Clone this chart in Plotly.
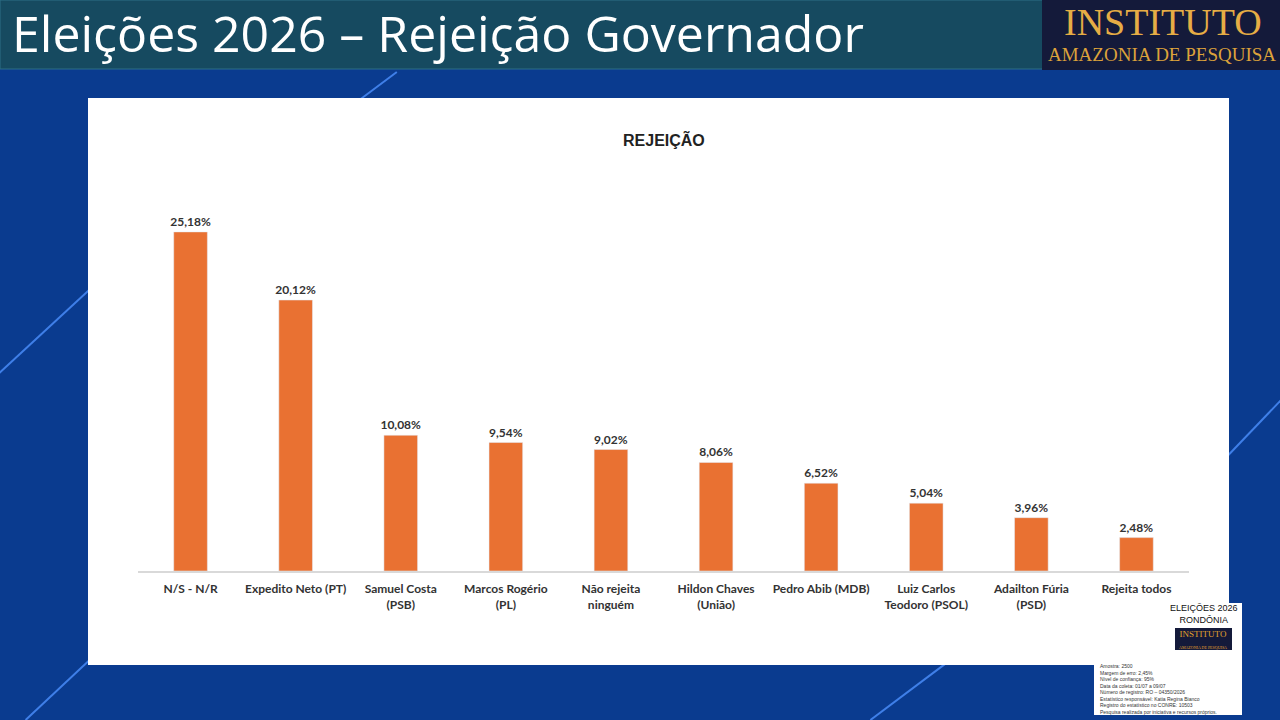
import plotly.graph_objects as go

# Dados da pesquisa (rejeição para governador)
categorias = ["N/S - N/R", "Expedito Neto (PT)", "Samuel Costa (PSB)", "Marcos Rogério (PL)",
              "Não rejeita ninguém", "Hildon Chaves (União)", "Pedro Abib (MDB)",
              "Luiz Carlos Teodoro (PSOL)", "Adailton Fúria (PSD)", "Rejeita todos"]
rotulos = ["N/S - N/R", "Expedito Neto (PT)", "Samuel Costa<br>(PSB)", "Marcos Rogério<br>(PL)",
           "Não rejeita<br>ninguém", "Hildon Chaves<br>(União)", "Pedro Abib (MDB)",
           "Luiz Carlos<br>Teodoro (PSOL)", "Adailton Fúria<br>(PSD)", "Rejeita todos"]
rejeicao = [25.18, 20.12, 10.08, 9.54, 9.02, 8.06, 6.52, 5.04, 3.96, 2.48]

ficha = ["Amostra: 2500", "Margem de erro: 2,45%", "Nível de confiança: 95%",
         "Data da coleta: 01/07 a 09/07", "Número de registro: RO – 04350/2026",
         "Estatístico responsável: Katia Regina Bianco", "Registro do estatístico no CONRE: 10503",
         "Pesquisa realizada por iniciativa e recursos próprios."]

# texto das barras no formato brasileiro
textos = [f"{v:.2f}".replace(".", ",") + "%" for v in rejeicao]

fig = go.Figure()
fig.add_trace(go.Bar(
    x=categorias, y=rejeicao, text=textos, textposition="outside",
    marker_color="#E97132", cliponaxis=False, constraintext="none",
    textfont=dict(family="Lato", size=12, color="#333333", weight="bold"),
    hoverinfo="x+y",
))

shapes = []
# fundo azul com linhas diagonais
shapes.append(dict(type="rect", xref="paper", yref="paper", x0=0, x1=1, y0=0, y1=1,
                   fillcolor="#0a3b8f", line_width=0, layer="below"))
for (x0, y0, x1, y1) in [(-0.02, 0.45, 0.12, 0.68), (0.02, 0.0, 0.2, 0.3), (0.28, 0.86, 0.31, 0.9),
                         (0.68, 0.0, 0.74, 0.08), (0.95, 0.35, 1.02, 0.48)]:
    shapes.append(dict(type="line", xref="paper", yref="paper", x0=x0, y0=y0, x1=x1, y1=y1,
                       line=dict(color="#3f7fe8", width=2), layer="below"))
# faixa do título
shapes.append(dict(type="rect", xref="paper", yref="paper", x0=0, x1=1, y0=1 - 69 / 720, y1=1,
                   fillcolor="#164a60", line=dict(color="#2d6f86", width=1), layer="below"))
# logo
shapes.append(dict(type="rect", xref="paper", yref="paper", x0=1042 / 1280, x1=1, y0=1 - 70 / 720, y1=1,
                   fillcolor="#141a3a", line_width=0, layer="below"))
# painel branco
shapes.append(dict(type="rect", xref="paper", yref="paper", x0=88 / 1280, x1=1229 / 1280,
                   y0=1 - 665 / 720, y1=1 - 98 / 720, fillcolor="white", line_width=0, layer="below"))
# ficha técnica
shapes.append(dict(type="rect", xref="paper", yref="paper", x0=1094 / 1280, x1=1242 / 1280,
                   y0=1 - 715 / 720, y1=1 - 603 / 720, fillcolor="white", line_width=0))
shapes.append(dict(type="rect", xref="paper", yref="paper", x0=1175 / 1280, x1=1232 / 1280,
                   y0=1 - 650 / 720, y1=1 - 628 / 720, fillcolor="#141a3a", line_width=0))

annotations = [
    dict(text="Eleições 2026 – Rejeição Governador", x=10 / 1280, y=1 - 33 / 720, xref="paper", yref="paper",
         xanchor="left", yanchor="middle", showarrow=False,
         font=dict(family="Open Sans", size=50, color="white")),
    dict(text="INSTITUTO", x=1163 / 1280, y=1 - 22 / 720, xref="paper", yref="paper",
         xanchor="center", yanchor="middle", showarrow=False, borderpad=0,
         font=dict(family="Liberation Serif", size=38, color="#e6ad45")),
    dict(text="AMAZONIA DE PESQUISA", x=1162 / 1280, y=1 - 55 / 720, xref="paper", yref="paper",
         xanchor="center", yanchor="middle", showarrow=False, borderpad=0,
         font=dict(family="Liberation Serif", size=19, color="#dca23a")),
    dict(text="<b>REJEIÇÃO</b>", x=664 / 1280, y=1 - 139 / 720, xref="paper", yref="paper",
         xanchor="center", yanchor="middle", showarrow=False,
         font=dict(family="Liberation Sans", size=16, color="#222222")),
    dict(text="ELEIÇÕES 2026<br>RONDÔNIA", x=1204 / 1280, y=1 - 614 / 720, xref="paper", yref="paper",
         xanchor="center", yanchor="middle", showarrow=False, align="center",
         font=dict(family="Liberation Sans", size=9, color="#111111")),
    dict(text="INSTITUTO<br><span style='font-size:4px'>AMAZONIA DE PESQUISA</span>", x=1203 / 1280,
         y=1 - 639 / 720, xref="paper", yref="paper", xanchor="center", yanchor="middle",
         showarrow=False, font=dict(family="Liberation Serif", size=9, color="#e3a32c")),
    dict(text="<br>".join(ficha), x=1098 / 1280, y=1 - 661 / 720, xref="paper", yref="paper",
         xanchor="left", yanchor="top", showarrow=False, align="left",
         font=dict(family="Liberation Sans", size=5, color="#333333")),
]

fig.update_layout(
    width=1280, height=720, margin=dict(l=0, r=0, t=0, b=0),
    paper_bgcolor="#0a3b8f", plot_bgcolor="white",
    showlegend=False, bargap=0.68,
    shapes=shapes, annotations=annotations,
    xaxis=dict(domain=[138 / 1280, 1189 / 1280], tickmode="array", tickvals=categorias, ticktext=rotulos,
               showline=True, linecolor="#d9d9d9", linewidth=1.5, ticks="", showgrid=False,
               ticklabelstandoff=6,
               tickfont=dict(family="Lato", size=12, color="#333333", weight="bold")),
    yaxis=dict(domain=[1 - 571 / 720, 1 - 167 / 720], range=[0, 30], visible=False, showgrid=False),
)

# remove a margem padrão da página para o gráfico começar no canto
fig.write_html("out.html", config={"displayModeBar": False},
               post_script="document.body.style.margin='0';")
